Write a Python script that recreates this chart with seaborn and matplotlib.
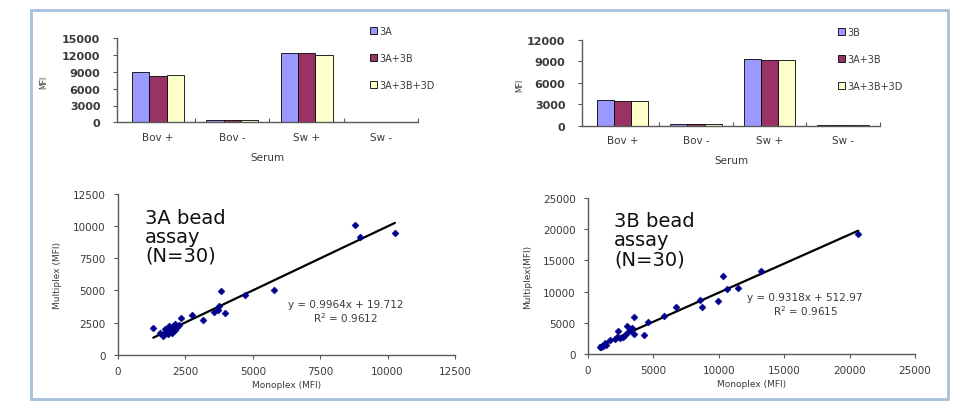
import numpy as np
import pandas as pd
import matplotlib
matplotlib.use("Agg")
import matplotlib.pyplot as plt
from matplotlib.patches import Rectangle
import seaborn as sns

# ---------------- data ----------------
serum = ["Bov +", "Bov -", "Sw +", "Sw -"]

# top-left: 3A bead
tl_series = ["3A", "3A+3B", "3A+3B+3D"]
tl_3A = [8900, 420, 12450, 40]
tl_3A3B = [8300, 420, 12320, 40]
tl_3A3B3D = [8500, 420, 12050, 40]

# top-right: 3B bead
tr_series = ["3B", "3A+3B", "3A+3B+3D"]
tr_3B = [3620, 250, 9300, 30]
tr_3A3B = [3420, 240, 9170, 30]
tr_3A3B3D = [3420, 240, 9170, 30]

bar_colors = ["#9999FF", "#993366", "#FFFFCC"]

# bottom-left: 3A monoplex vs multiplex
a_mono = [8800, 8970, 10270, 5800, 3820, 4710, 3760, 3700, 3970, 3560,
          3165, 2757, 2325, 1310, 1680, 1805, 1930, 2050, 1870, 1990,
          2175, 1560, 1740, 2110, 1700, 1850, 2000, 1900, 2250, 2100]
a_multi = [10050, 9180, 9500, 5030, 4930, 4645, 3810, 3500, 3220, 3300,
           2720, 3090, 2830, 2050, 1480, 1740, 2000, 2260, 1610, 1820,
           2130, 1690, 2000, 2390, 1600, 1900, 1700, 2200, 2300, 1950]
a_slope, a_intercept, a_r2 = 0.9964, 19.712, 0.9612

# bottom-right: 3B monoplex vs multiplex
b_mono = [20660, 13190, 10300, 10600, 9960, 8690, 8600, 6700, 5810, 4610,
          3520, 4280, 3340, 2960, 2320, 3060, 2425, 2680, 2040, 1660,
          1275, 1020, 890, 1400, 3500, 3265, 11480, 2800, 2200, 1150]
b_multi = [19230, 13355, 12550, 10420, 8450, 7480, 8600, 7480, 6140, 5080,
           5980, 3090, 4120, 4440, 3740, 3470, 2565, 2780, 2400, 2240,
           1710, 1175, 1070, 1500, 3200, 3850, 10520, 3100, 2700, 1300]
b_slope, b_intercept, b_r2 = 0.9318, 512.97, 0.9615

# ---------------- style ----------------
sns.set_theme(style="white")
plt.rcParams["font.family"] = ["DejaVu Sans"]
tick_col = "#3a3a3a"
spine_col = "#5a5a5a"

W, H = 964, 414
fig = plt.figure(figsize=(W / 100, H / 100), dpi=100)
fig.patch.set_facecolor("white")


def fr(x0, y0, x1, y1):
    """pixel box -> figure fraction rect"""
    return [x0 / W, 1 - y1 / H, (x1 - x0) / W, (y1 - y0) / H]


# outer frame
fig.patches.append(Rectangle((31 / W, 1 - 400 / H), (948 - 31) / W, (400 - 11) / H,
                             transform=fig.transFigure, fill=False,
                             edgecolor="#A7BFDA", linewidth=2.0))


def bar_panel(rect, series, values, ymax, step, legend_xy, ylabel_xy):
    ax = fig.add_axes(rect)
    df = pd.DataFrame({
        "Serum": serum * len(series),
        "MFI": sum(values, []),
        "Assay": [s for s in series for _ in serum],
    })
    sns.barplot(data=df, x="Serum", y="MFI", hue="Assay", palette=bar_colors,
                edgecolor="black", linewidth=0.6, width=0.7, ax=ax,
                saturation=1, errorbar=None)
    handles, labels = ax.get_legend_handles_labels()
    ax.get_legend().remove()
    ax.set_ylim(0, ymax)
    ax.set_xlim(-0.55, 3.5)
    ax.set_yticks(np.arange(0, ymax + 1, step))
    ax.set_yticklabels([f"{int(v)}" for v in np.arange(0, ymax + 1, step)],
                       fontweight="semibold")
    for s in ["top", "right"]:
        ax.spines[s].set_visible(False)
    for s in ["left", "bottom"]:
        ax.spines[s].set_color(spine_col)
        ax.spines[s].set_linewidth(1.0)
    ax.tick_params(axis="y", direction="out", length=3, width=0.8, color=spine_col,
                   labelsize=8, labelcolor=tick_col, pad=9, left=True)
    ax.tick_params(axis="x", length=0, labelsize=7.5, labelcolor=tick_col, pad=7)
    ax.set_xticks(np.arange(0.5, 4, 1), minor=True)
    ax.tick_params(axis="x", which="minor", direction="in", length=3, width=0.8,
                   color=spine_col, bottom=True)
    ax.set_xlabel("Serum", fontsize=7.5, color=tick_col, labelpad=7)
    ax.set_ylabel("")
    fig.text(ylabel_xy[0] / W, 1 - ylabel_xy[1] / H, "MFI", rotation=90,
             fontsize=5.5, color=tick_col, ha="center", va="center")
    fig.legend(handles, labels, loc="upper left",
               bbox_to_anchor=(legend_xy[0] / W, 1 - legend_xy[1] / H),
               frameon=False, fontsize=7, labelcolor=tick_col,
               handlelength=0.7, handleheight=0.7, handletextpad=0.25,
               labelspacing=1.75, borderpad=0, borderaxespad=0)
    return ax


bar_panel(fr(117, 39.3, 418, 123.3), tl_series, [tl_3A, tl_3A3B, tl_3A3B3D],
          15000, 3000, (370, 27), (44, 82))
bar_panel(fr(582, 40.7, 880, 126.7), tr_series, [tr_3B, tr_3A3B, tr_3A3B3D],
          12000, 3000, (838, 28), (520, 85))


def scatter_panel(rect, mono, multi, slope, intercept, r2, lim, step,
                  title, eq_xy, ylab):
    ax = fig.add_axes(rect)
    sns.scatterplot(x=mono, y=multi, marker="D", s=13, color="#00008B",
                    edgecolor="#00008B", linewidth=0.3, ax=ax, zorder=3)
    xs = np.array([min(mono), max(mono)])
    sns.lineplot(x=xs, y=slope * xs + intercept, color="black", linewidth=1.6,
                 ax=ax, zorder=2)
    ax.set_xlim(0, lim)
    ax.set_ylim(0, lim)
    ticks = np.arange(0, lim + 1, step)
    ax.set_xticks(ticks)
    ax.set_yticks(ticks)
    ax.set_xticklabels([f"{int(v)}" for v in ticks])
    ax.set_yticklabels([f"{int(v)}" for v in ticks])
    for s in ["top", "right"]:
        ax.spines[s].set_visible(False)
    for s in ["left", "bottom"]:
        ax.spines[s].set_color(spine_col)
        ax.spines[s].set_linewidth(1.0)
    ax.tick_params(axis="both", direction="out", length=3, width=0.8,
                   color=spine_col, labelsize=7.5, labelcolor=tick_col,
                   left=True, bottom=True)
    ax.tick_params(axis="y", pad=6)
    ax.tick_params(axis="x", pad=5)
    ax.set_xlabel("Monoplex (MFI)", fontsize=6.5, color=tick_col, labelpad=3)
    ax.set_ylabel(ylab, fontsize=6.5, color=tick_col, labelpad=8)
    ax.text(0.08, 0.915, title, transform=ax.transAxes, fontsize=14,
            color="#111111", ha="left", va="top", linespacing=1.0)
    ax.text(eq_xy[0], eq_xy[1],
            f"y = {slope}x + {intercept}\nR$^2$ = {r2}",
            transform=ax.transAxes, fontsize=7.5, color=tick_col,
            ha="center", va="center", linespacing=1.1)
    return ax


scatter_panel(fr(118, 195, 455, 355.7), a_mono, a_multi, a_slope, a_intercept,
              a_r2, 12500, 2500, "3A bead\nassay\n(N=30)", (0.675, 0.27),
              "Multiplex (MFI)")
scatter_panel(fr(588, 199, 915, 355), b_mono, b_multi, b_slope, b_intercept,
              b_r2, 25000, 5000, "3B bead\nassay\n(N=30)", (0.664, 0.32),
              "Multiplex(MFI)")

fig.savefig("out.png", dpi=100, facecolor="white")
